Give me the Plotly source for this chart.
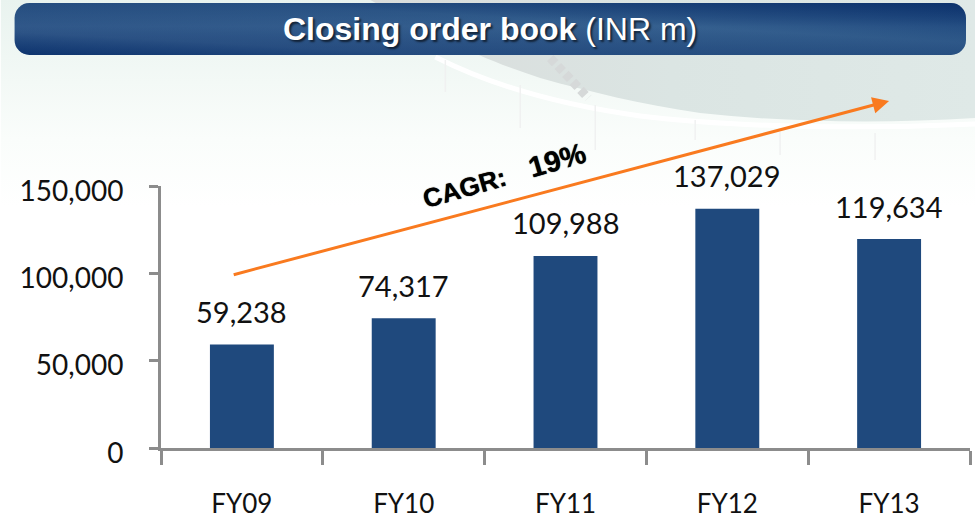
import base64
import plotly.graph_objects as go

categories = ["FY09", "FY10", "FY11", "FY12", "FY13"]
order_book = [59238, 74317, 109988, 137029, 119634]
y_ticks = [0, 50000, 100000, 150000]
positions = list(range(len(categories)))
boundaries = [-0.5, 0.5, 1.5, 2.5, 3.5, 4.5]

W, H = 975, 517
L, R, T, B = 160.5, 5, 186, 69
def px(x):
    return (x - L) / (W - L - R)
def py(y):
    return (H - B - y) / (H - T - B)

svg = f'''<svg xmlns="http://www.w3.org/2000/svg" width="{W}" height="{H}" viewBox="0 0 {W} {H}">
<defs>
<linearGradient id="bg" x1="0" y1="0" x2="0" y2="1">
<stop offset="0" stop-color="#e9f3ef"/><stop offset="0.27" stop-color="#fafdfb"/><stop offset="0.4" stop-color="#ffffff"/>
</linearGradient>
<linearGradient id="sea" x1="0" y1="0" x2="1" y2="0">
<stop offset="0" stop-color="#d9dcdb"/><stop offset="0.5" stop-color="#dbe5e3"/><stop offset="1" stop-color="#dfe9e7"/>
</linearGradient>
<linearGradient id="bar" x1="0" y1="1" x2="1" y2="0" gradientUnits="objectBoundingBox">
<stop offset="0" stop-color="#0f3672"/><stop offset="0.22" stop-color="#2f5688"/>
<stop offset="0.62" stop-color="#35608f"/><stop offset="1" stop-color="#0d3470"/>
</linearGradient>
<linearGradient id="sh" x1="0" y1="0" x2="0" y2="1">
<stop offset="0" stop-color="#0b2f66" stop-opacity="0.35"/><stop offset="0.45" stop-color="#0b2f66" stop-opacity="0"/>
<stop offset="1" stop-color="#0b2f66" stop-opacity="0.3"/>
</linearGradient>
</defs>
<rect width="{W}" height="{H}" fill="url(#bg)"/>
<path d="M370 0 L975 0 L975 118 C880 124 780 122 700 113 C640 104 590 92 540 78 C490 62 440 40 370 0 Z" fill="url(#sea)"/>
<path d="M435 57 C490 85 560 105 640 116 C720 126 850 130 975 124" fill="none" stroke="#ffffff" stroke-width="5"/>
<path d="M445 60 L445 92 M520 85 L520 128 M595 105 L595 150 M695 120 L695 140 M780 132 L780 155 M875 133 L875 160" stroke="#f0f1f1" stroke-width="1.5" fill="none"/>
<path d="M550 58 L588 98" stroke="#d6d9d9" stroke-width="9" stroke-dasharray="7 4" fill="none"/>
<rect x="14" y="3" width="952" height="52" rx="15" ry="15" fill="url(#bar)"/>
<rect x="14" y="3" width="952" height="52" rx="15" ry="15" fill="url(#sh)"/>
</svg>'''
bg_uri = "data:image/svg+xml;base64," + base64.b64encode(svg.encode()).decode()

label_font = dict(family="Lato, Carlito, sans-serif", size=29, color="#111111")
AXIS = "#8c8c8c"

fig = go.Figure(go.Bar(
    x=positions, y=order_book, width=0.395,
    marker=dict(color="#1f497d", line=dict(width=0)),
    hoverinfo="skip",
))

annotations = [
    dict(x=x, y=v, xref="x", yref="y", text=f"{v:,}", showarrow=False,
         xanchor="center", yanchor="middle", yshift=33, font=label_font)
    for x, v in zip(positions, order_book)
]
annotations += [
    dict(x=4.0, y=198700, ax=-0.06, ay=99000, xref="x", yref="y", axref="x", ayref="y",
         text="", showarrow=True, arrowhead=2, arrowsize=1.1, arrowwidth=3, arrowcolor="#f97a1f"),
    dict(x=px(464), y=py(188), xref="paper", yref="paper", text="<b>CAGR:</b>", showarrow=False,
         xanchor="center", yanchor="middle",
         textangle=-16, font=dict(family="Liberation Sans, Arial", size=26, color="#000000",
                                  shadow="0 0 1px #000000")),
    dict(x=px(557), y=py(160), xref="paper", yref="paper", text="<b>19%</b>", showarrow=False,
         xanchor="center", yanchor="middle",
         textangle=-16, font=dict(family="Liberation Sans, Arial", size=29, color="#000000",
                                  shadow="0 0 1px #000000")),
    dict(x=px(490), y=py(29), xref="paper", yref="paper", showarrow=False,
         xanchor="center", yanchor="middle",
         text="<b>Closing order book</b> (INR m)",
         font=dict(family="Liberation Sans, Arial", size=32, color="#ffffff",
                   shadow="2px 2px 2px rgba(0,0,0,0.6)")),
]

fig.update_layout(
    width=W, height=H, autosize=False,
    margin=dict(l=L, r=R, t=T, b=B, pad=0, autoexpand=False),
    paper_bgcolor="rgba(0,0,0,0)", plot_bgcolor="rgba(0,0,0,0)",
    showlegend=False,
    annotations=annotations,
    images=[dict(source=bg_uri, xref="paper", yref="paper", x=px(0), y=py(0),
                 sizex=px(W) - px(0), sizey=py(0) - py(H),
                 xanchor="left", yanchor="top", sizing="stretch", layer="below")],
    xaxis=dict(
        range=[-0.5, 4.5], tickmode="array", tickvals=positions, ticktext=categories,
        ticks="", ticklabelstandoff=31, showgrid=False, zeroline=False, automargin=False,
        showline=True, linecolor=AXIS, linewidth=3,
        tickfont=dict(family="Lato, Carlito, sans-serif", size=26, color="#111111"),
        minor=dict(tickmode="array", tickvals=boundaries, ticks="outside", ticklen=14,
                   tickwidth=3, tickcolor=AXIS, showgrid=False),
    ),
    yaxis=dict(
        range=[0, 150000], tickmode="array", tickvals=y_ticks, tickformat=",d",
        ticks="outside", ticklen=9, tickwidth=3, tickcolor=AXIS, ticklabelstandoff=20,
        ticklabelshift=5, automargin=False,
        showgrid=False, zeroline=False, showline=True, linecolor=AXIS, linewidth=3,
        tickfont=dict(family="Lato, Carlito, sans-serif", size=28, color="#111111"),
    ),
)

fig.write_html("out.html", config=dict(displayModeBar=False),
               post_script="document.body.style.margin='0';document.body.style.overflow='hidden';")
